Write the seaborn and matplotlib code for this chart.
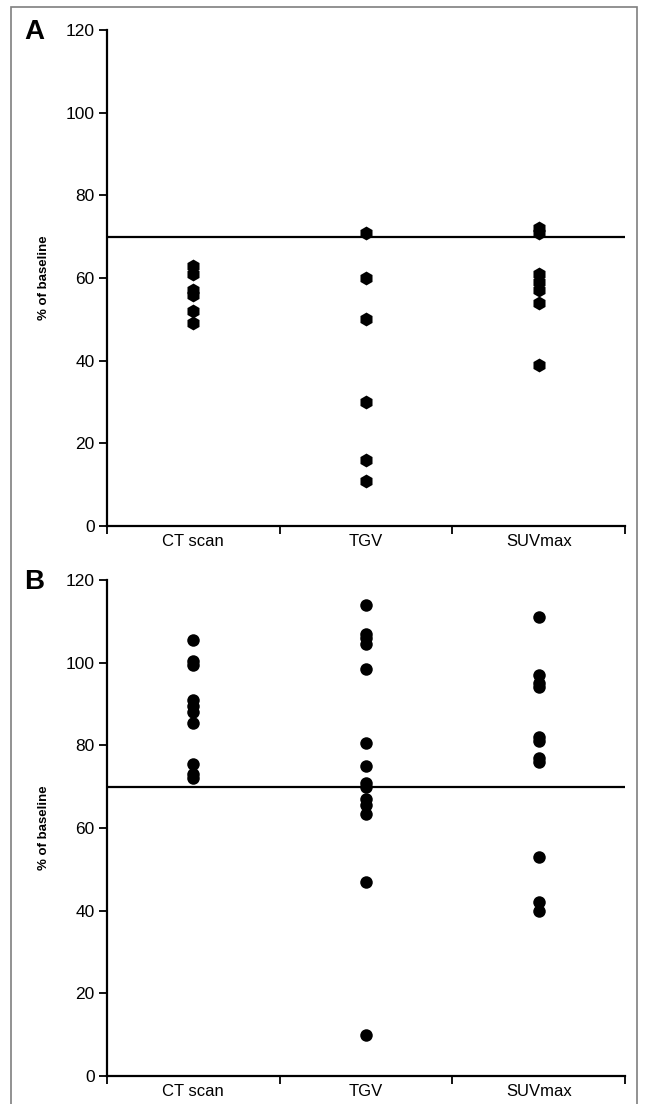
import numpy as np
import pandas as pd
import matplotlib
matplotlib.use("Agg")
import matplotlib.pyplot as plt
import seaborn as sns
from matplotlib.patches import Rectangle

# Data (% of baseline)
categories = ["CT scan", "TGV", "SUVmax"]

a_ct = [63, 61, 57, 56, 52, 49]
a_tgv = [71, 60, 50, 30, 16, 11]
a_suv = [72, 71, 61, 59, 57, 54, 39]

b_ct = [105.5, 100.5, 99.5, 91, 89.5, 88, 85.5, 75.5, 73, 72]
b_tgv = [114, 107, 106, 104.5, 98.5, 80.5, 75, 71, 70, 67, 65.5, 63.5, 47, 10]
b_suv = [111, 97, 95, 94, 82, 81, 77, 76, 53, 42, 40]

threshold = 70
y_ticks = [0, 20, 40, 60, 80, 100, 120]


def to_long(ct, tgv, suv):
    rows = []
    for cat, vals in zip(categories, [ct, tgv, suv]):
        for v in vals:
            rows.append({"method": cat, "value": v})
    return pd.DataFrame(rows)


sns.set_style("white")
plt.rcParams["font.family"] = ["Liberation Sans", "DejaVu Sans"]
plt.rcParams["text.color"] = "black"
plt.rcParams["xtick.color"] = "black"
plt.rcParams["ytick.color"] = "black"
plt.rcParams["axes.labelcolor"] = "black"

fig = plt.figure(figsize=(6.48, 11.04), dpi=100)
W, H = 648, 1104

# thin grey frame around the whole figure (bottom edge falls outside the image)
fig.patches.append(Rectangle((11 / W, -10 / H), 626 / W, 1107 / H, transform=fig.transFigure,
                             fill=False, edgecolor="#7f7f7f", linewidth=1.2))

panels = [
    ("A", to_long(a_ct, a_tgv, a_suv), 30, 526, "h", 10),
    ("B", to_long(b_ct, b_tgv, b_suv), 580, 1076, "o", 9),
]

for letter, df, top, bottom, mk, msize in panels:
    ax = fig.add_axes([107 / W, 1 - bottom / H, 518 / W, (bottom - top) / H])
    sns.stripplot(data=df, x="method", y="value", order=categories, jitter=False,
                  color="black", marker=mk, size=msize, linewidth=0, ax=ax, zorder=3)
    ax.axhline(threshold, color="black", linewidth=1.6, zorder=2)
    ax.set_xlim(-0.5, 2.5)
    ax.set_ylim(0, 120)
    ax.set_yticks(y_ticks)
    ax.tick_params(axis="y", direction="out", length=6, width=1.3, labelsize=12.5, pad=3, left=True)
    # category separators as major ticks, names as minor ticks
    ax.set_xticks([-0.5, 0.5, 1.5, 2.5])
    ax.set_xticklabels([])
    ax.set_xticks([0, 1, 2], minor=True)
    ax.set_xticklabels(categories, minor=True)
    ax.tick_params(axis="x", which="major", direction="out", length=6, width=1.3, bottom=True)
    ax.tick_params(axis="x", which="minor", length=0, labelsize=12, pad=6)
    ax.set_xlabel("")
    ax.set_ylabel("% of baseline", fontsize=9.5, fontweight="bold", labelpad=11)
    sns.despine(ax=ax)
    for s in ["left", "bottom"]:
        ax.spines[s].set_linewidth(1.6)
        ax.spines[s].set_color("black")
    fig.text(24 / W, 1 - (top + 2) / H, letter, fontsize=20, fontweight="bold", va="center", ha="left")

fig.savefig("out.png", dpi=100)
